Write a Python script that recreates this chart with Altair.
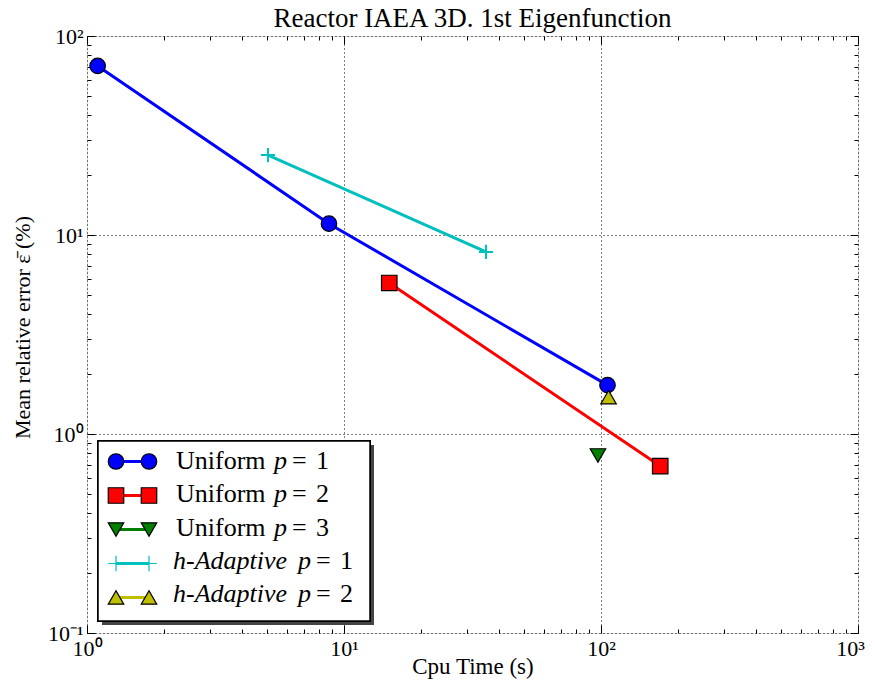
import math
import altair as alt
import pandas as pd

# ---------------- data ----------------
series_names = ["Uniform p = 1", "Uniform p = 2", "Uniform p = 3",
                "h-Adaptive p = 1", "h-Adaptive p = 2"]
u1_time = [1.10, 8.74, 106.0]
u1_err = [70.7, 11.4, 1.76]
u2_time = [15.0, 170.0]
u2_err = [5.74, 0.69]
u3_time = [97.3]
u3_err = [0.78]
h1_time = [5.06, 35.7]
h1_err = [25.2, 8.22]
h2_time = [107.0]
h2_err = [1.53]

legend_word = ["Uniform", "Uniform", "Uniform", "h-Adaptive", "h-Adaptive"]
legend_p = ["1", "2", "3", "1", "2"]

x_ticks = [1, 10, 100, 1000]
x_tick_labels = ["10⁰", "10¹", "10²", "10³"]
y_ticks = [0.1, 1, 10, 100]
y_tick_labels = ["10⁻¹", "10⁰", "10¹", "10²"]

title_text = "Reactor IAEA 3D. 1st Eigenfunction"
x_title = "Cpu Time (s)"
y_title = "Mean relative error ε̄ (%)"

# ---------------- styling ----------------
FONT = "Liberation Serif"
BLUE, RED, GREEN, CYAN, YELLOW = "#0000ff", "#ff0000", "#007f00", "#00bfbf", "#bfbf00"
colors = [BLUE, RED, GREEN, CYAN, YELLOW]
CROSS = "M-1,0L1,0M0,-1L0,1"
shapes = ["circle", "square", "triangle-down", CROSS, "triangle-up"]
fills = [BLUE, RED, GREEN, "rgba(0,0,0,0)", YELLOW]
strokes = ["black", "black", "black", CYAN, "black"]

W, H = 771, 597

rows = []
for name, xs_, ys_ in zip(series_names,
                          [u1_time, u2_time, u3_time, h1_time, h2_time],
                          [u1_err, u2_err, u3_err, h1_err, h2_err]):
    for a, b in zip(xs_, ys_):
        rows.append({"series": name, "x": a, "y": b})
df = pd.DataFrame(rows)

leg = pd.DataFrame({
    "series": series_names,
    "idx": list(range(len(series_names))),
    "word": legend_word,
    "num": legend_p,
})


def label_expr(vals, labs):
    expr = "''"
    for v, l in zip(vals, labs):
        e = math.log10(v)
        expr = f"(abs(log(datum.value)/LN10 - ({e})) < 0.01 ? '{l}' : {expr})"
    return expr


def minors(lo, hi):
    out = []
    d = lo
    while d < hi:
        out += [k * d for k in range(2, 10)]
        d *= 10
    return out


x_minor = minors(1, 1000)
y_minor = minors(0.1, 100)

xs = alt.Scale(type="log", domain=[1, 1000], nice=False)
ys = alt.Scale(type="log", domain=[0.1, 100], nice=False)

common_lab = dict(labelFont=FONT, labelFontSize=22, labelColor="black",
                  labelFlush=False, labelOverlap=False, labelBound=False,
                  ticks=False, domain=False, grid=True, gridColor="black",
                  gridDash=[1, 3], gridWidth=1, gridOpacity=1,
                  titleFont=FONT, titleFontWeight="normal",
                  titleColor="black", titleBaseline="alphabetic")

ax_x_lab = alt.Axis(orient="bottom", values=x_ticks,
                    labelExpr=label_expr(x_ticks, x_tick_labels),
                    labelOffset={"condition": {"test": "datum.value >= 1000", "value": -8}, "value": 0},
                    labelPadding=5, title=x_title, titleFontSize=23,
                    titleY=40, **common_lab)
ax_y_lab = alt.Axis(orient="left", values=y_ticks,
                    labelExpr=label_expr(y_ticks, y_tick_labels),
                    labelPadding=4, title=y_title, titleFontSize=22,
                    titleX=-58, titleY=291, **common_lab)


def tick_axis(orient, vals, size):
    return alt.Axis(orient=orient, values=vals, labels=False, domain=False,
                    grid=False, ticks=True, tickSize=size, tickColor="black",
                    tickWidth=1, offset=-size, title=None)


x_axes = [ax_x_lab, tick_axis("bottom", x_ticks, 8), tick_axis("bottom", x_minor, 4),
          tick_axis("top", x_ticks, 8), tick_axis("top", x_minor, 4)]
y_axes = [ax_y_lab, tick_axis("left", y_ticks, 8), tick_axis("left", y_minor, 4),
          tick_axis("right", y_ticks, 8), tick_axis("right", y_minor, 4)]

layers = []
axis_i = [0]


def enc_xy():
    i = axis_i[0]
    axis_i[0] += 1
    if i < len(x_axes):
        return dict(x=alt.X("x:Q", scale=xs, axis=x_axes[i]),
                    y=alt.Y("y:Q", scale=ys, axis=y_axes[i]))
    return dict(x=alt.X("x:Q", scale=xs, axis=None),
                y=alt.Y("y:Q", scale=ys, axis=None))


base = alt.Chart(df)
for name, col in zip(series_names, colors):
    sub = base.transform_filter(alt.datum.series == name)
    layers.append(sub.mark_line(color=col, strokeWidth=3, clip=True).encode(**enc_xy()))
for name, col, shp, fil, stk in zip(series_names, colors, shapes, fills, strokes):
    sub = base.transform_filter(alt.datum.series == name)
    if shp == CROSS:
        m = sub.mark_point(shape=shp, filled=False, stroke=stk, strokeWidth=2,
                           size=200, opacity=1, clip=True)
    else:
        m = sub.mark_point(shape=shp, filled=True, fill=fil, stroke=stk,
                           strokeWidth=1.2, size=240, opacity=1, clip=True)
    layers.append(m.encode(**enc_xy()))

# ---------------- legend (inside plot, lower left) ----------------
LX0, LX1, LY0, LY1 = 11, 283, 405, 585
SYM_Y = [425.5, 561.5]
TXT_Y = [433, 566]
SX0, SX1 = 29, 62

lb = alt.Chart(leg)
ysym = alt.Y("idx:Q", scale=alt.Scale(domain=[0, 4], range=SYM_Y), axis=None)
ytxt = alt.Y("idx:Q", scale=alt.Scale(domain=[0, 4], range=TXT_Y), axis=None)

shadow = lb.mark_rect(fill="#444444", opacity=1).encode(
    x=alt.value(LX0 + 4), x2=alt.value(LX1 + 4), y=alt.value(LY0 + 4), y2=alt.value(LY1 + 4))
box = lb.mark_rect(fill="white", stroke="black", strokeWidth=1.5).encode(
    x=alt.value(LX0), x2=alt.value(LX1), y=alt.value(LY0), y2=alt.value(LY1))
seg = lb.mark_rule(strokeWidth=3).encode(
    x=alt.value(SX0), x2=alt.value(SX1), y=ysym,
    color=alt.Color("series:N", scale=alt.Scale(domain=series_names, range=colors), legend=None))
sym_enc = dict(
    y=ysym,
    shape=alt.Shape("series:N", scale=alt.Scale(domain=series_names, range=shapes), legend=None),
    fill=alt.Fill("series:N", scale=alt.Scale(domain=series_names, range=fills), legend=None),
    stroke=alt.Stroke("series:N", scale=alt.Scale(domain=series_names, range=strokes), legend=None),
    strokeWidth=alt.StrokeWidth("series:N", scale=alt.Scale(domain=series_names, range=[1.2, 1.2, 1.2, 2, 1.2]), legend=None),
)
sym0 = lb.mark_point(size=240, opacity=1).encode(x=alt.value(SX0), **sym_enc)
sym1 = lb.mark_point(size=240, opacity=1).encode(x=alt.value(SX1), **sym_enc)

tfont = dict(font=FONT, fontSize=26, align="left", baseline="alphabetic", color="black")
uni = lb.transform_filter(alt.datum.word == "Uniform")
had = lb.transform_filter(alt.datum.word != "Uniform")
texts = [
    uni.mark_text(**tfont).encode(x=alt.value(89), y=ytxt, text="word:N"),
    uni.mark_text(fontStyle="italic", **tfont).encode(x=alt.value(187), y=ytxt, text=alt.value("p")),
    uni.mark_text(**tfont).encode(x=alt.value(205), y=ytxt, text=alt.value("=")),
    uni.mark_text(**tfont).encode(x=alt.value(229), y=ytxt, text="num:N"),
    had.mark_text(fontStyle="italic", **tfont).encode(x=alt.value(86), y=ytxt, text="word:N"),
    had.mark_text(fontStyle="italic", **tfont).encode(x=alt.value(211), y=ytxt, text=alt.value("p")),
    had.mark_text(**tfont).encode(x=alt.value(229), y=ytxt, text=alt.value("=")),
    had.mark_text(**tfont).encode(x=alt.value(253), y=ytxt, text="num:N"),
]

chart = alt.layer(*layers, shadow, box, seg, sym0, sym1, *texts).resolve_scale(
    x="independent", y="independent", color="independent", shape="independent",
    fill="independent", stroke="independent", strokeWidth="independent"
).resolve_axis(x="independent", y="independent").properties(
    width=W, height=H,
    title=alt.TitleParams(title_text, font=FONT, fontSize=27, fontWeight="normal",
                          color="black", anchor="middle", offset=8, frame="group",
                          dy=16),
    autosize=alt.AutoSizeParams(type="none"),
    padding={"left": 79, "top": 28, "right": 8, "bottom": 46},
).configure_view(stroke="black", strokeWidth=1.5).configure(background="white")

chart.save("out.html", embed_options={"renderer": "svg", "actions": False})
